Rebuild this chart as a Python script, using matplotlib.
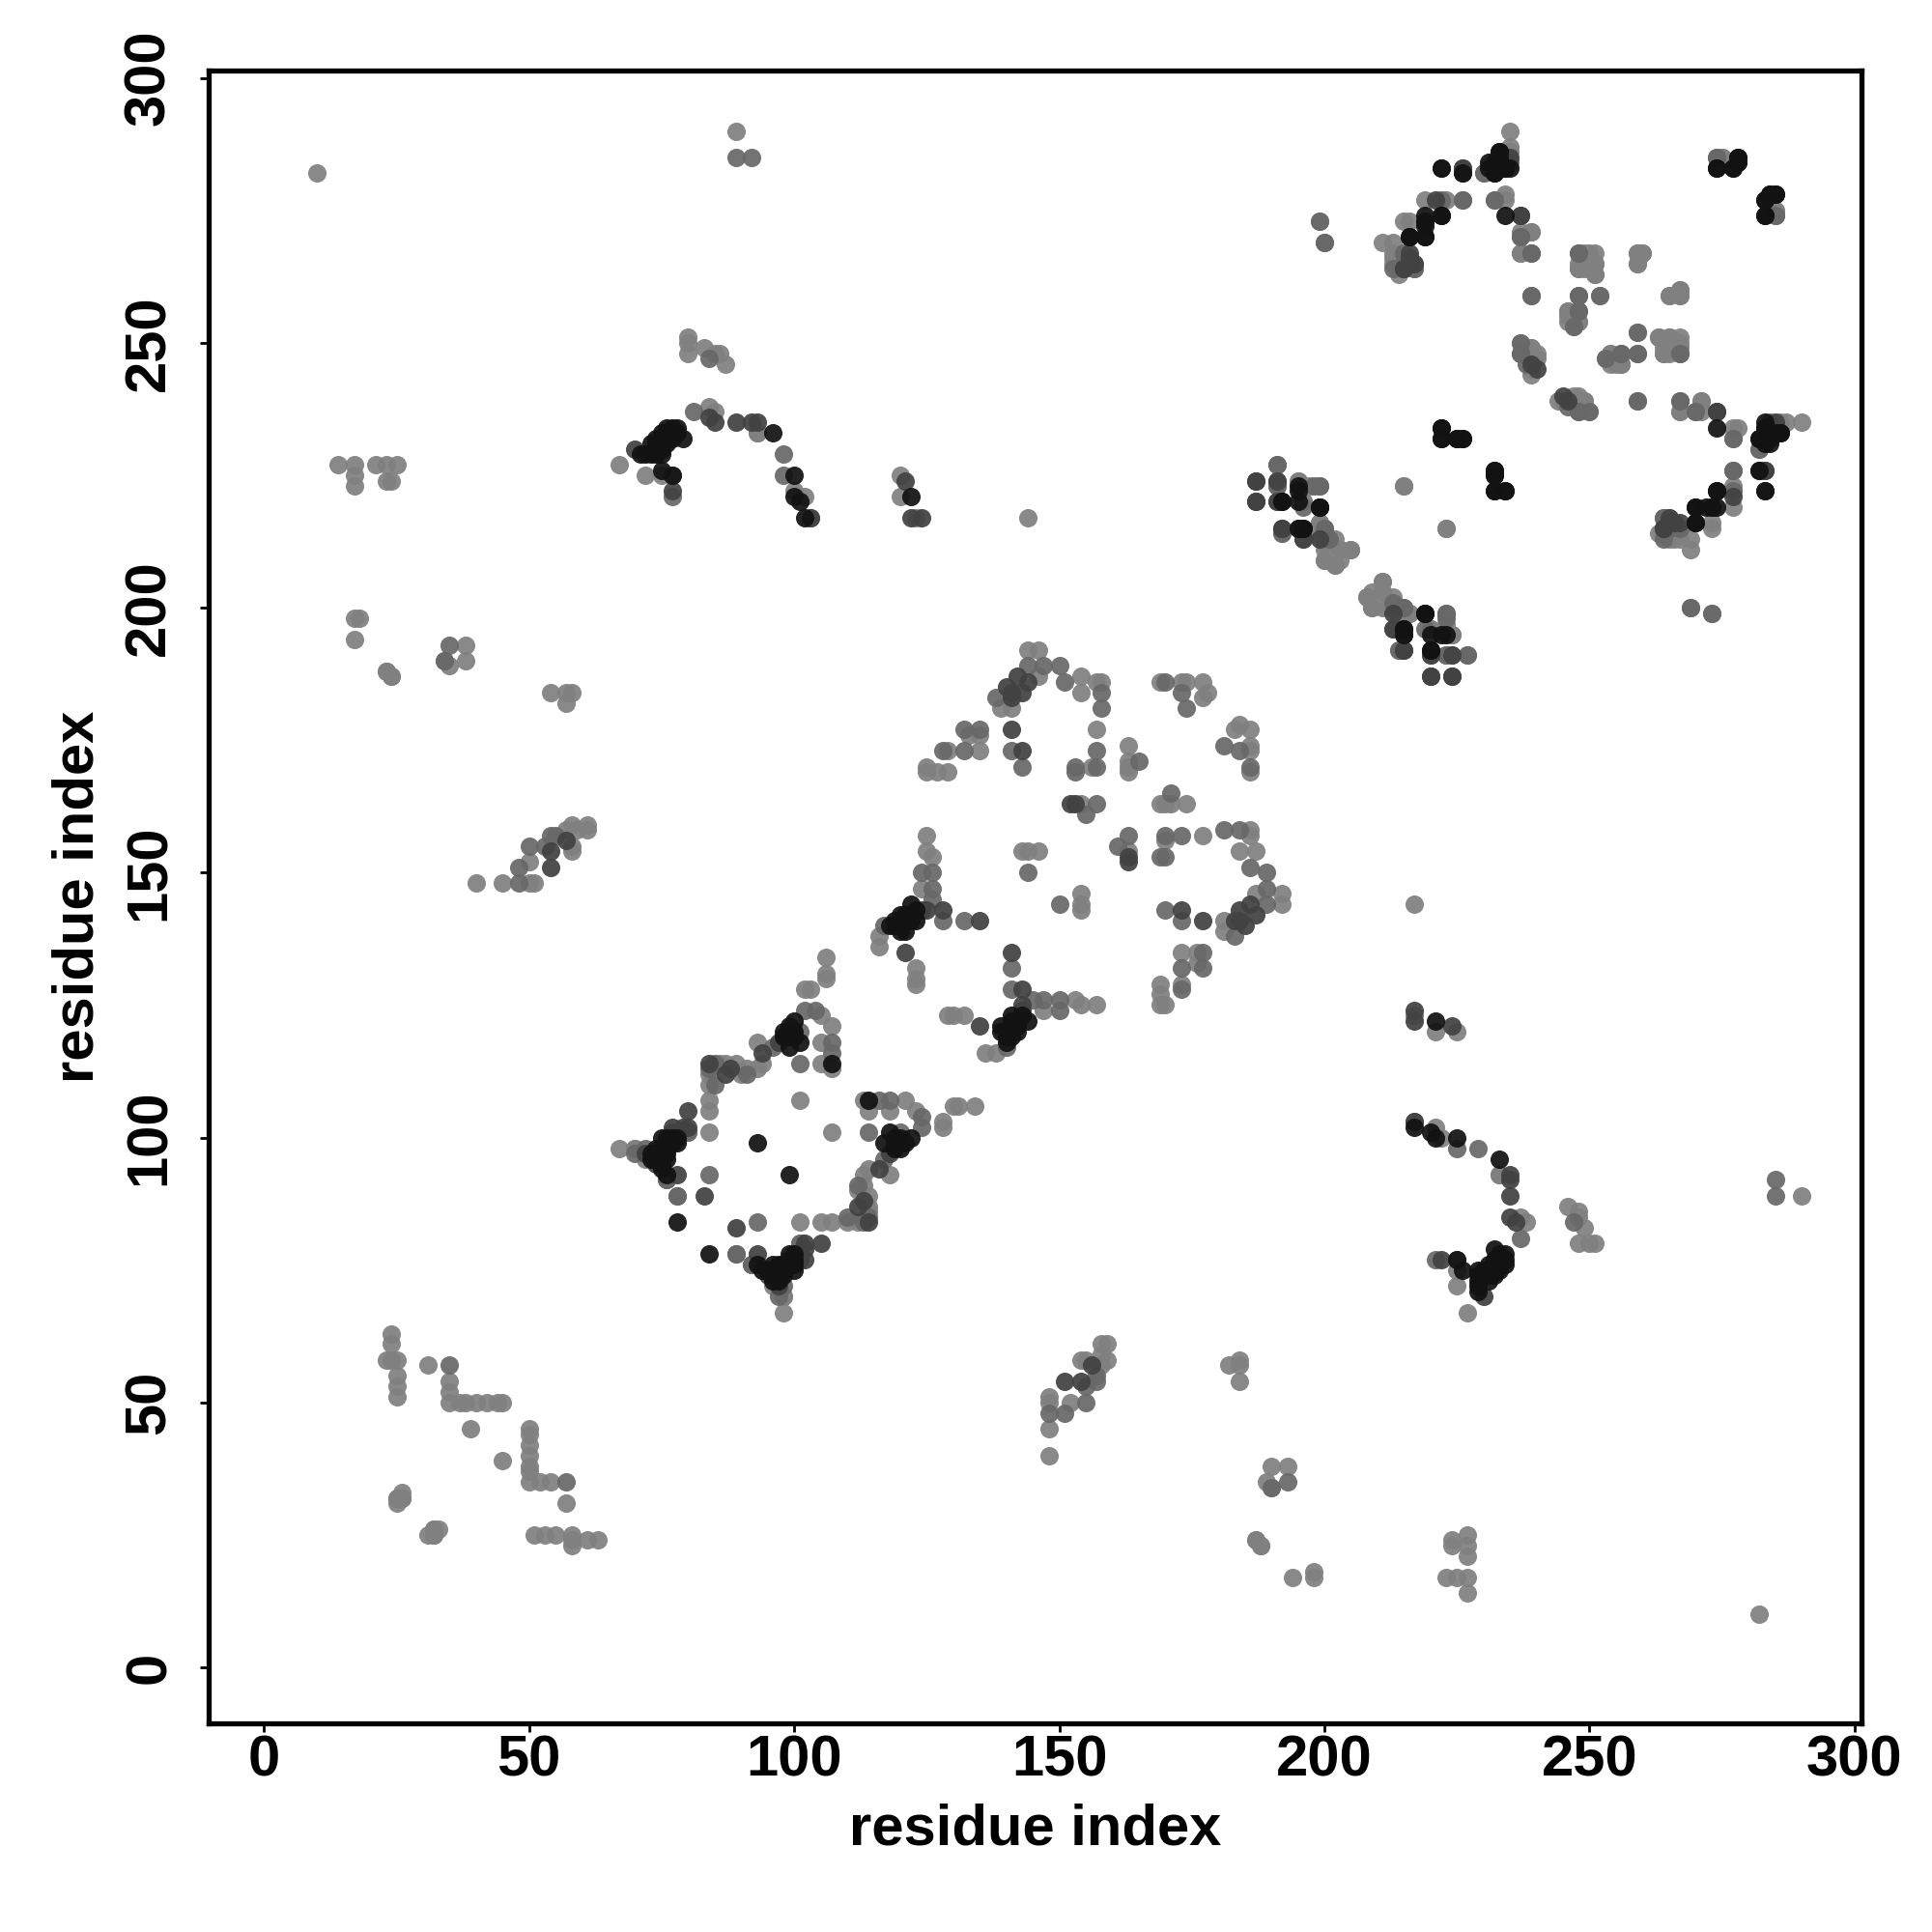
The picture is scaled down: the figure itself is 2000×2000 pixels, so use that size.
import matplotlib
matplotlib.use("Agg")
import matplotlib.pyplot as plt

x_ticks = [0, 50, 100, 150, 200, 250, 300]
y_ticks = [0, 50, 100, 150, 200, 250, 300]
x_title = "residue index"
y_title = "residue index"

# contacts (i, j) read from the upper triangle; the map is symmetric
contacts_light = [
 (10,282),(89,290),(14,227),(17,227),(17,225),(17,223),(21,227),(23,227),(25,227),(23,224),(24,224),
 (17,198),(18,198),(17,194),(23,188),(24,187),(34,190),(35,189),(38,193),(38,190),(54,184),(57,184),(58,184),(57,182),
 (40,148),(45,148),(50,148),(51,148),(50,152),(58,159),(59,158),(61,159),(61,158),(58,154),(58,155),(57,158),
 (67,227),(72,225),(75,225),(84,238),(85,237),(93,233),(100,222),(102,221),
 (80,251),(80,250),(80,248),(83,249),(85,248),(86,248),(87,246),(120,225),(120,221),(123,217),(144,217),
 (199,273),(211,269),(213,269),(219,277),(223,277),(232,277),(234,278),(234,277),(230,282),(235,290),(235,287),(235,286),
 (216,273),(215,273),(237,271),(239,271),(237,267),(213,267),(213,266),(213,265),(214,264),(214,263),(216,266),
 (275,285),(285,275),(249,267),(251,267),(248,264),(251,265),(251,263),(249,264),(259,267),(260,267),(259,265),
 (252,259),(265,259),(267,260),(267,259),(246,256),(246,255),(248,254),(253,247),(254,248),(256,246),(254,246),
 (263,251),(265,251),(267,250),(264,248),(265,248),(239,249),(240,247),(239,244),(245,239),(248,240),(249,239),(250,237),(247,239),
 (267,237),(271,239),
 (215,223),(223,215),(195,224),(196,220),(197,223),(199,216),(198,214),(202,213),(200,212),(205,211),(203,211),(200,209),(202,208),(203,209),
 (211,205),(211,203),(208,202),(209,200),(211,200),(216,199),(220,196),(224,195),(214,192),
 (144,192),(146,192),(146,187),(139,181),(141,181),(154,187),(154,184),(157,186),(158,186),(169,186),(173,186),(174,186),(177,186),(177,183),(178,184),
 (135,176),(133,176),(129,173),(135,173),(125,170),(125,169),(127,169),(129,169),(157,177),(156,170),(163,174),(163,171),(163,170),(163,169),(154,163),
 (125,157),(125,154),(126,153),(124,147),(116,138),(116,136),(123,132),(123,130),(123,129),(143,154),(144,154),(146,154),
 (106,134),(106,131),(106,130),(103,128),(102,128),(105,123),(107,121),(105,118),(107,113),(105,114),(93,118),(94,114),(93,113),
 (87,114),(89,114),(84,112),(91,113),(84,110),(84,107),(84,105),(84,101),(101,107),(86,114),(90,112),(72,96),(70,98),(67,98),
 (24,63),(24,61),(23,58),(25,58),(25,55),(25,53),(25,51),(31,57),(35,54),(35,52),(35,50),(38,50),(40,50),(42,50),(44,50),(45,50),(39,45),(37,50),
 (25,32),(26,32),(25,31),(32,25),(33,26),(32,26),(24,58),(80,101),(98,70),
 (188,23),(187,24),
 (93,233),
]
contacts_mid = [
 (89,285),(92,285),(35,193),(48,148),(48,151),(50,155),(55,157),(53,155),(54,157),(81,237),(84,247),(77,221),(98,229),(98,225),(103,217),
 (200,269),(222,277),(226,277),(235,284),(237,270),(239,267),(215,265),(217,265),(217,264),(215,264),(274,285),(285,274),
 (248,267),(239,259),(248,259),(248,256),(247,253),(259,252),(259,248),(256,248),(267,248),(237,250),(237,248),
 (248,237),(246,238),(259,239),(267,239),(270,237),(277,232),(282,230),(277,226),(269,200),(273,199),(264,217),(264,213),(267,215),
 (191,227),(191,223),(192,214),(199,223),(200,215),(196,213),(213,201),(215,200),(219,196),(223,199),(223,198),(220,191),(223,191),(224,191),(227,191),
 (144,189),(147,189),(150,189),(138,183),(151,186),(158,184),(158,181),(170,186),(173,184),(174,181),
 (132,177),(135,177),(128,173),(132,173),(141,173),(143,170),(157,173),(157,170),(153,170),(153,169),(165,171),(155,161),(157,163),
 (124,150),(126,150),(126,147),(126,145),(117,140),(128,141),(132,141),(144,150),
 (102,124),(104,124),(107,118),(107,116),(101,120),(101,114),(96,117),(84,113),(85,110),(85,114),(91,112),
 (78,89),(84,93),(80,101),(70,97),(76,92),(89,78),(92,76),(98,72),
 (35,57),(34,190),(77,225),
]
contacts_dark = [
 (54,151),(54,154),(57,156),(70,230),(85,235),(84,236),(89,235),(92,235),(93,235),(77,222),(103,217),(121,224),(122,217),(124,217),
 (226,283),(226,282),(237,274),(216,267),(216,265),(215,264),(285,235),(240,245),(246,239),(274,237),
 (187,224),(187,220),(191,224),(191,220),(192,215),(195,215),(213,199),(213,196),(219,199),(215,192),(220,187),(224,187),
 (142,187),(140,185),(141,184),(143,184),(141,183),(144,186),(141,177),(143,173),(152,163),(153,163),
 (125,143),(128,143),(135,141),(121,135),(94,116),(84,114),(88,113),(87,112),(77,102),(80,105),(80,102),(78,93),(74,95),(72,97),(83,89),
 (273,219),(266,216),(265,217),(283,226),(277,221),(222,283),(264,215),(97,118),(79,102),(77,101),(124,143),
]
contacts_black = [
 (71,229),(72,229),(73,229),(74,229),(75,229),(73,231),(74,232),(75,233),(76,234),(76,231),(77,232),(78,234),(79,232),(75,226),(77,225),
 (74,230),(75,230),(74,231),(75,231),(75,232),(76,233),(77,233),(77,234),(78,233),
 (96,233),(100,225),(100,221),(102,217),(101,220),(122,221),
 (233,286),(231,284),(232,284),(234,283),(232,282),(219,274),(222,274),(219,273),(216,270),(219,270),(234,274),(235,283),
 (274,283),(278,285),(277,283),(278,284),(283,277),(285,278),(284,278),(283,274),
 (283,234),(282,232),(283,231),(285,233),(286,233),(282,226),(283,222),(274,222),(270,219),(270,216),(272,219),
 (222,234),(222,232),(225,232),(226,232),(232,226),(232,225),(232,222),(234,222),
 (192,220),(195,222),(195,220),(199,219),(196,215),(215,196),(215,195),(220,192),(223,195),(219,199),
 (122,144),(120,142),(122,141),(123,141),(118,140),(120,139),(121,139),
 (119,140),(119,141),(121,141),(121,142),(123,143),(122,142),(120,140),
 (100,122),(98,120),(99,117),(101,118),(107,114),(98,119),(99,119),(99,120),(100,120),(100,119),(99,121),
 (93,99),(74,98),(73,96),(75,100),(75,97),(76,96),(75,98),(78,99),(76,100),(76,93),(78,84),
 (73,97),(74,96),(74,97),(75,95),(75,96),(76,97),(76,98),(76,99),(77,100),(77,99),(78,100),(75,94),
]

LIGHT, MID, DARK, BLACK = "#808080", "#686868", "#424242", "#121212"

plt.rcParams["font.family"] = ["Liberation Sans", "DejaVu Sans"]
fig = plt.figure(figsize=(10, 10), dpi=200)
ax = fig.add_axes([216/2000, 1 - 1784/2000, (1927-216)/2000, (1784-73)/2000])

for pts, col in [(contacts_light, LIGHT), (contacts_mid, MID), (contacts_dark, DARK), (contacts_black, BLACK)]:
    i = [p[0] for p in pts]
    j = [p[1] for p in pts]
    ax.scatter(i + j, j + i, s=47, c=col, linewidths=0, alpha=0.93)

ax.set_xlim(-10.44, 301.3)
ax.set_ylim(-10.57, 301.4)
ax.set_xticks(x_ticks)
ax.set_yticks(y_ticks)
ax.tick_params(axis="x", length=3.2, width=1.0, labelsize=21.5, pad=1)
ax.tick_params(axis="y", length=3.2, width=1.0, labelsize=21.5, pad=8.8)
for lab in ax.get_xticklabels():
    lab.set_fontweight("bold")
for lab in ax.get_yticklabels():
    lab.set_fontweight("bold")
    lab.set_rotation(90)
    lab.set_va("center")
for s in ax.spines.values():
    s.set_linewidth(1.9)
ax.set_xlabel(x_title, fontsize=21.5, fontweight="bold", labelpad=5.8)
ax.set_ylabel(y_title, fontsize=21.5, fontweight="bold", labelpad=6.8)
fig.savefig("out.png", dpi=200)
